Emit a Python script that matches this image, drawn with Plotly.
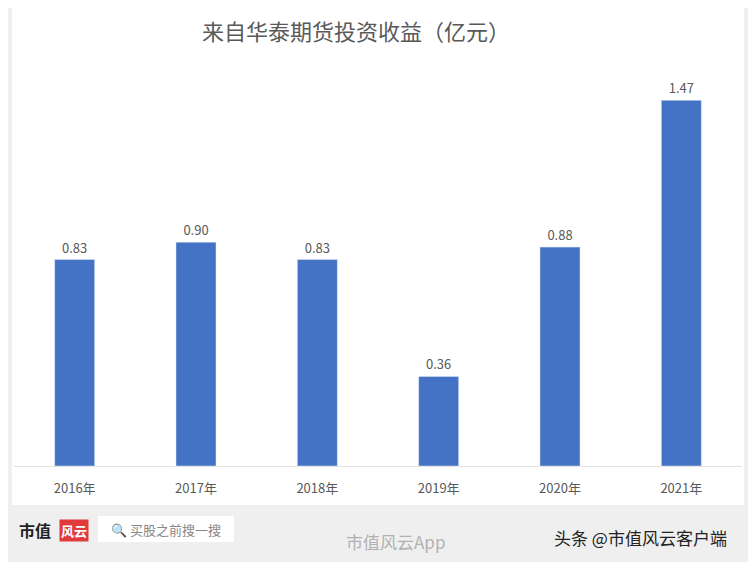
import plotly.graph_objects as go

categories = ["2016年", "2017年", "2018年", "2019年", "2020年", "2021年"]
values = [0.83, 0.90, 0.83, 0.36, 0.88, 1.47]
labels = ["0.83", "0.90", "0.83", "0.36", "0.88", "1.47"]

OFF = 8  # page body margin
W, H = 756 - OFF, 562 - OFF
L, R, T, B = 14 - OFF, 742 - OFF, 68 - OFF, 466 - OFF  # plot area in figure px

def px(x): return (x - OFF - L) / (R - L)
def py(y): return 1 - (y - OFF - T) / (B - T)

def ann(text, x, y, size, color, **kw):
    return dict(text=text, xref="paper", yref="paper", x=px(x), y=py(y),
                xanchor="center", yanchor="middle", showarrow=False,
                font=dict(size=size, color=color), **kw)

fig = go.Figure(go.Bar(
    x=categories, y=values, marker_color="#4472C4",
    text=labels, textposition="outside", cliponaxis=False,
    textfont=dict(size=13, color="#595959"),
))
fig.update_layout(
    width=W, height=H, margin=dict(l=L, r=W - R, t=T, b=H - B, pad=0),
    paper_bgcolor="#efefef", plot_bgcolor="white", bargap=0.67,
    font=dict(family="Noto Sans CJK SC, sans-serif"),
    showlegend=False,
    xaxis=dict(tickfont=dict(size=13, color="#595959"), showline=True,
               linecolor="#e3e3e3", ticks="", ticklabelstandoff=10),
    yaxis=dict(range=[0, 1.6], visible=False, showgrid=False),
    shapes=[
        dict(type="rect", xref="paper", yref="paper", x0=px(12), x1=px(744),
             y0=py(505), y1=py(4), fillcolor="white", line_width=0, layer="below"),
        dict(type="rect", xref="paper", yref="paper", x0=px(98), x1=px(234),
             y0=py(542), y1=py(516), fillcolor="white", line_width=0, layer="below"),
    ],
    annotations=[
        ann("来自华泰期货投资收益（亿元）", 356, 30, 22, "#595959"),
        ann("<b>市值</b>", 35, 530, 16, "#222"),
        ann("<b>风云</b>", 74, 530, 13, "white", bgcolor="#e03a3a"),
        ann("🔍 买股之前搜一搜", 166, 529, 13, "#888"),
        ann("市值风云App", 395, 541, 17, "rgba(160,160,160,0.8)"),
        ann("头条 @市值风云客户端", 640, 537, 17, "#222"),
    ],
)
fig.write_html("out.html")
